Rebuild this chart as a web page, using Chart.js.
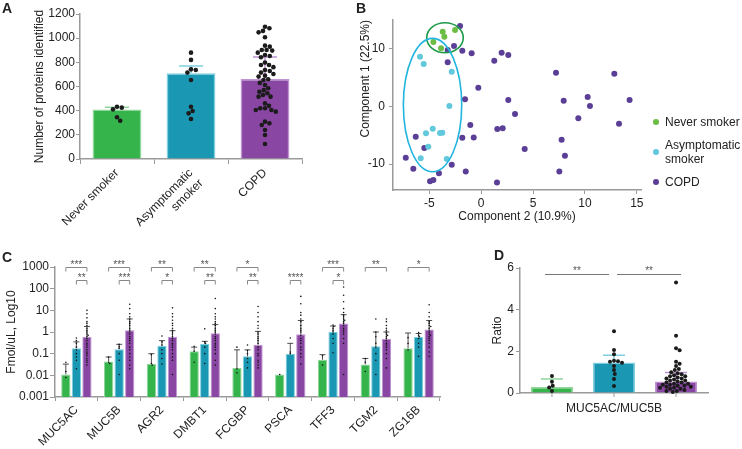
<!DOCTYPE html>
<html>
<head>
<meta charset="utf-8">
<script src="https://cdn.jsdelivr.net/npm/chart.js@4.4.0/dist/chart.umd.min.js"></script>
<style>
  body { margin: 0; background: #fff; width: 742px; height: 449px; position: relative; overflow: hidden;
         font-family: "Liberation Sans", Arial, sans-serif; color: #222; }
  .panel { position: absolute; }
  .letter { position: absolute; font-weight: bold; font-size: 14px; line-height: 14px; }
  #legendB { position: absolute; left: 653px; top: 115px; width: 90px; font-size: 12px; line-height: 14px; }
  #legendB .item { display: flex; align-items: center; margin-bottom: 9px; }
  #legendB .dot { width: 6px; height: 6px; border-radius: 50%; margin-right: 6px; flex: none; }
</style>
</head>
<body>
<div class="panel" style="left:0;top:0"><canvas id="chartA" width="310" height="230"></canvas></div>
<div class="panel" style="left:330px;top:0"><canvas id="chartB" width="412" height="230"></canvas></div>
<div class="panel" style="left:0;top:225px"><canvas id="chartC" width="445" height="224"></canvas></div>
<div class="panel" style="left:488px;top:225px"><canvas id="chartD" width="254" height="224"></canvas></div>
<div class="letter" style="left:2px;top:1px">A</div>
<div class="letter" style="left:356px;top:1px">B</div>
<div class="letter" style="left:2px;top:250px">C</div>
<div class="letter" style="left:494px;top:248px">D</div>
<div id="legendB"></div>

<script>
// ---- data ----
const groupsA = ['Never smoker', ['Asymptomatic', 'smoker'], 'COPD'];
const meanA = [410, 709, 662];
const errA = [428, 770, 845];
const dotsNeverA = [425, 411, 433, 345, 317];
const dotsAsymA = [880, 820, 742, 737, 715, 654, 433, 397, 378, 331];
const dotsCopdA = [1095, 1082, 1060, 1048, 1007, 938, 930, 902, 902, 897, 880, 861, 853, 842, 798, 778, 778, 760,
  737, 728, 715, 704, 690, 682, 660, 654, 630, 613, 585, 570, 557, 544, 530, 516, 516, 460, 440, 420, 420, 406,
  406, 392, 309, 295, 281, 240, 199, 124];

const groupsB = ['Never smoker', 'Asymptomatic smoker', 'COPD'];
const neverX = [-3.71, -2.52, -3.55, -4.61, -3.87];
const neverY = [12.97, 13.26, 12.1, 11.18, 10.08];
const asymX = [-5.9, -5.54, -2.84, -3.07, -4.67, -5.32, -3.97, -3.75, -5.1, -5.83, -3.32];
const asymY = [8.63, 7.36, 6.03, 0.07, -3.87, -4.67, -4.62, -4.57, -7.0, -9.0, -9.13];
const copdX = [-2.04, -2.62, -3.23, -1.82, -0.92, -3.23, -0.28, -1.56, -1.05, -0.72, -1.82, -6.31, -5.48, -7.27,
  -6.54, -2.84, -1.49, -4.07, -4.61, -4.93, 1.52, 1.55, 2.07, 1.26, 1.97, 2.61, 7.21, 12.83, 2.61, 7.95, 10.26,
  10.48, 14.3, 3.26, 9.36, 13.28, 7.75, 4.19, 8.07, 7.53];
const copdY = [13.96, 10.49, 9.79, 9.67, 9.22, 7.65, 3.25, 1.23, -3.23, -5.37, -5.43, -5.26, -7.22, -8.9, -10.8,
  -10.1, -11.27, -11.6, -12.78, -13.0, -13.2, -3.92, -3.8, 7.93, 9.33, 8.92, 5.85, 5.68, 1.11, 0.99, 1.63, 0.07,
  1.11, -1.32, -2.07, -3.0, -5.78, -7.4, -8.55, -11.27];
const xTicksB = [-5, 0, 5, 10, 15];
const yTicksB = [-10, 0, 10];
// ellipses: centre and radii in data units (never smoker, asymptomatic smoker)
const ellipseCx = [-3.49, -4.69];
const ellipseCy = [11.93, 0.24];
const ellipseRx = [1.76, 2.81];
const ellipseRy = [2.6, 11.58];

const proteinsC = ['MUC5AC', 'MUC5B', 'AGR2', 'DMBT1', 'FCGBP', 'PSCA', 'TFF3', 'TGM2', 'ZG16B'];
const meanNeverC = [0.011, 0.044, 0.033, 0.13, 0.022, 0.011, 0.052, 0.032, 0.18];
const meanAsymC = [0.18, 0.16, 0.23, 0.28, 0.075, 0.1, 1.0, 0.22, 0.59];
const meanCopdC = [0.6, 1.2, 0.6, 0.87, 0.26, 0.78, 2.5, 0.48, 1.3];
const errNeverC = [0.033, 0.07, 0.1, 0.2, 0.15, null, 0.09, 0.06, 0.9];
const errAsymC = [0.35, 0.27, 0.4, 0.37, 0.15, 0.3, 1.9, 1.0, 0.85];
const errCopdC = [1.8, 4, 1.15, 2.2, 1.07, 3.4, 6.3, 1.0, 3.4];
const dotsNeverC = [
  [0.04, 0.015, 0.008], [0.07, 0.04, 0.035], [0.09, 0.035, 0.03], [0.22, 0.13, 0.04], [0.2, 0.02, 0.013],
  [0.011], [0.08, 0.03], [0.06, 0.04, 0.015], [0.55, 0.3, 0.15]
];
const dotsAsymC = [
  [0.53, 0.4, 0.3, 0.2, 0.15, 0.1, 0.07, 0.05, 0.02],
  [0.27, 0.22, 0.18, 0.1, 0.05, 0.011],
  [0.65, 0.35, 0.25, 0.15, 0.1, 0.06, 0.033],
  [1.4, 0.35, 0.3, 0.2, 0.1, 0.035],
  [0.25, 0.14, 0.1, 0.06, 0.04, 0.022],
  [0.53, 0.12, 0.1],
  [2.1, 1.8, 1.5, 1.2, 1.0, 0.8, 0.5, 0.3, 0.11],
  [4, 1, 0.6, 0.3, 0.2, 0.1, 0.05, 0.011],
  [0.95, 0.7, 0.6, 0.5, 0.3, 0.2, 0.075]
];
const dotsCopdC = [
  [10, 7, 4.5, 3, 2.5, 2, 1.5, 1.2, 1, 0.8, 0.7, 0.6, 0.5, 0.4, 0.3, 0.25, 0.2, 0.15, 0.12, 0.1, 0.08, 0.06, 0.05, 0.04, 0.03],
  [19, 12, 7, 5, 4, 3, 2.5, 2, 1.5, 1.2, 1, 0.8, 0.6, 0.5, 0.4, 0.3, 0.2, 0.15, 0.1, 0.07, 0.05, 0.03, 0.02],
  [13, 7, 5, 3.5, 2.5, 2, 1.5, 1.2, 1, 0.8, 0.6, 0.5, 0.4, 0.3, 0.25, 0.2, 0.15, 0.1, 0.07, 0.05, 0.011],
  [35, 12, 7, 5, 4, 3, 2.5, 2, 1.5, 1.2, 1, 0.8, 0.6, 0.5, 0.4, 0.3, 0.25, 0.2, 0.15, 0.1, 0.05, 0.03],
  [15, 8, 5, 3, 2, 1.5, 1, 0.8, 0.6, 0.5, 0.4, 0.3, 0.2, 0.15, 0.1, 0.08, 0.05, 0.04, 0.03, 0.022],
  [44, 20, 8, 6, 4, 3, 2, 1.5, 1.2, 1, 0.7, 0.5, 0.4, 0.3, 0.2, 0.15, 0.1, 0.07, 0.033],
  [120, 50, 25, 12, 8, 6, 5, 4, 3.5, 3, 2.5, 2, 1.5, 1.2, 1, 0.8, 0.5, 0.3, 0.011],
  [4, 3, 2, 1.5, 1.2, 1, 0.8, 0.7, 0.6, 0.5, 0.4, 0.3, 0.25, 0.2, 0.15, 0.1, 0.06, 0.022],
  [18, 8, 5, 3, 2.5, 2, 1.8, 1.5, 1.2, 1, 0.8, 0.7, 0.6, 0.5, 0.4, 0.3, 0.2, 0.12, 0.075]
];
const yTicksC = [0.001, 0.01, 0.1, 1, 10, 100, 1000];
const yTickLabelsC = ['0.001', '0.01', '0.1', '1', '10', '100', '1000'];
// [protein index, from group, to group, label]
const bracketsC = [
  [0, 0, 2, '***'], [0, 1, 2, '**'],
  [1, 0, 2, '***'], [1, 1, 2, '***'],
  [2, 0, 2, '**'], [2, 1, 2, '*'],
  [3, 0, 2, '**'], [3, 1, 2, '**'],
  [4, 0, 2, '*'], [4, 1, 2, '**'],
  [5, 1, 2, '****'],
  [6, 0, 2, '***'], [6, 1, 2, '*'],
  [7, 0, 2, '**'],
  [8, 0, 2, '*']
];

const labelD = ['MUC5AC/MUC5B'];
const meanD = [0.29, 1.46, 0.55];
const errD = [0.67, 1.81, 0.98];
const dotsNeverD = [0.82, 0.54, 0.35, 0.26, 0.1];
const dotsAsymD = [2.97, 2.07, 1.86, 1.55, 1.52, 1.5, 1.45, 1.3, 1.1, 0.91, 0.67, 0.34];
const dotsCopdD = [5.3, 2.75, 2.15, 2.05, 1.5, 1.4, 1.3, 1.15, 1.1, 1.0, 0.95, 0.9, 0.85, 0.8, 0.8, 0.75, 0.7,
  0.7, 0.65, 0.6, 0.6, 0.55, 0.5, 0.5, 0.45, 0.45, 0.4, 0.4, 0.35, 0.35, 0.3, 0.3, 0.25, 0.25, 0.2, 0.2, 0.15,
  0.1, 0.1, 0.05];
const bracketsD = [[0, 1, '**'], [1, 2, '**']];

// ---- styles ----
const barColors = ['#34b44a', '#1a97b3', '#8a46a3'];
const lightColors = ['#8fd69b', '#7fcfe0', '#bf94d3'];
const scatterColors = ['#6cbd45', '#62c9dd', '#5b3f97'];
const ellipseColors = ['#1f9a49', '#22b5df'];
const axisGray = '#9a9a9a';
const FONT = '"Liberation Sans", Arial, sans-serif';

Chart.defaults.font.family = FONT;
Chart.defaults.font.size = 12;
Chart.defaults.color = '#222';
Chart.defaults.animation = false;
Chart.defaults.responsive = false;
Chart.defaults.plugins.legend.display = false;
Chart.defaults.plugins.tooltip.enabled = false;

function axisGrid(len) {
  return { display: true, drawOnChartArea: false, drawTicks: len > 0, tickLength: len, color: axisGray, lineWidth: 1 };
}
const axisBorder = { color: axisGray, width: 1.5 };
const plain = v => String(v);

// simple beeswarm: nudges dots sideways until they stop overlapping
function swarm(cx, ys, r) {
  const order = ys.map((y, i) => i).sort((a, b) => ys[a] - ys[b]);
  const placed = [];
  const xs = new Array(ys.length);
  const d2 = (2 * r) * (2 * r);
  order.forEach(i => {
    const y = ys[i];
    let x = cx;
    for (let k = 0; k < 400; k++) {
      const off = (k % 2 ? 1 : -1) * Math.ceil(k / 2) * 0.4;
      const tx = cx + off;
      if (placed.every(p => (p[0] - tx) ** 2 + (p[1] - y) ** 2 >= d2)) { x = tx; break; }
    }
    xs[i] = x;
    placed.push([x, y]);
  });
  return xs;
}

function drawDots(ctx, cx, yScale, vals, r, color) {
  const ys = vals.map(v => yScale.getPixelForValue(v));
  const xs = swarm(cx, ys, r);
  ctx.fillStyle = color;
  ys.forEach((py, k) => { ctx.beginPath(); ctx.arc(xs[k], py, r, 0, Math.PI * 2); ctx.fill(); });
}

function drawCap(ctx, cx, yScale, mean, err, color, halfW, lw) {
  const top = yScale.getPixelForValue(mean), cap = yScale.getPixelForValue(err);
  ctx.strokeStyle = color; ctx.lineWidth = lw;
  ctx.beginPath();
  ctx.moveTo(cx, top); ctx.lineTo(cx, cap);
  ctx.moveTo(cx - halfW, cap); ctx.lineTo(cx + halfW, cap);
  ctx.stroke();
}

// ---- A ----
const dotsA = [dotsNeverA, dotsAsymA, dotsCopdA];
new Chart(document.getElementById('chartA'), {
  type: 'bar',
  data: {
    labels: groupsA,
    datasets: [{ data: meanA, backgroundColor: barColors, borderColor: lightColors, borderWidth: 1.5,
                 barPercentage: 0.66, categoryPercentage: 1 }]
  },
  options: {
    layout: { padding: { top: 14, right: 8 } },
    scales: {
      x: { grid: axisGrid(5), border: axisBorder,
           ticks: { maxRotation: 45, minRotation: 45, padding: 2, font: { size: 12 } },
           afterFit: s => { s.height = 71; } },
      y: { min: 0, max: 1200, grid: axisGrid(4), border: axisBorder,
           ticks: { stepSize: 200, padding: 1, font: { size: 12 }, callback: plain },
           title: { display: true, text: 'Number of proteins identified', font: { size: 12 }, padding: { top: 32, bottom: 0 } },
           afterFit: s => { s.width = 80; } }
    }
  },
  plugins: [{
    id: 'dotsA',
    afterDatasetsDraw(chart) {
      const ctx = chart.ctx, y = chart.scales.y, meta = chart.getDatasetMeta(0);
      ctx.save();
      dotsA.forEach((vals, i) => {
        const cx = meta.data[i].x;
        drawCap(ctx, cx, y, meanA[i], errA[i], lightColors[i], 12, 1.5);
        drawDots(ctx, cx, y, vals, 2.3, '#1b1b1b');
      });
      ctx.restore();
    }
  }]
});

// ---- B ----
const toPts = (xs, ys) => xs.map((x, i) => ({ x, y: ys[i] }));
new Chart(document.getElementById('chartB'), {
  type: 'scatter',
  data: {
    datasets: [
      { label: groupsB[0], data: toPts(neverX, neverY), backgroundColor: scatterColors[0] },
      { label: groupsB[1], data: toPts(asymX, asymY), backgroundColor: scatterColors[1] },
      { label: groupsB[2], data: toPts(copdX, copdY), backgroundColor: scatterColors[2] }
    ].map(d => Object.assign(d, { pointRadius: 3, borderWidth: 0 }))
  },
  options: {
    layout: { padding: { top: 20, right: 101 } },
    scales: {
      x: { type: 'linear', min: -8.5, max: 15.4, grid: axisGrid(4), border: axisBorder,
           afterBuildTicks: s => { s.ticks = xTicksB.map(v => ({ value: v })); },
           ticks: { padding: 2 },
           title: { display: true, text: 'Component 2 (10.9%)', padding: { top: 0, bottom: 6 } },
           afterFit: s => { s.height = 40; } },
      y: { min: -14.5, max: 15, grid: axisGrid(4), border: axisBorder,
           afterBuildTicks: s => { s.ticks = yTicksB.map(v => ({ value: v })); },
           ticks: { padding: 4 },
           title: { display: true, text: 'Component 1 (22.5%)', align: 'end', padding: { top: 28, bottom: 0 } },
           afterFit: s => { s.width = 63; } }
    }
  },
  plugins: [{
    id: 'ellipses',
    afterDatasetsDraw(chart) {
      const ctx = chart.ctx, xs = chart.scales.x, ys = chart.scales.y;
      ctx.save();
      ctx.lineWidth = 1.6;
      ellipseCx.forEach((cx, i) => {
        const px = xs.getPixelForValue(cx), py = ys.getPixelForValue(ellipseCy[i]);
        const rx = Math.abs(xs.getPixelForValue(cx + ellipseRx[i]) - px);
        const ry = Math.abs(ys.getPixelForValue(ellipseCy[i] + ellipseRy[i]) - py);
        ctx.strokeStyle = ellipseColors[i];
        ctx.beginPath(); ctx.ellipse(px, py, rx, ry, 0, 0, Math.PI * 2); ctx.stroke();
      });
      ctx.restore();
    }
  }]
});
const leg = document.getElementById('legendB');
groupsB.forEach((g, i) => {
  const it = document.createElement('div');
  it.className = 'item';
  it.innerHTML = '<span class="dot" style="background:' + scatterColors[i] + '"></span><span>' + g + '</span>';
  leg.appendChild(it);
});

// ---- C ----
const meansC = [meanNeverC, meanAsymC, meanCopdC];
const errsC = [errNeverC, errAsymC, errCopdC];
const dotsC = [dotsNeverC, dotsAsymC, dotsCopdC];
new Chart(document.getElementById('chartC'), {
  type: 'bar',
  data: {
    labels: proteinsC,
    datasets: meansC.map((m, g) => ({ data: m, backgroundColor: barColors[g], borderColor: lightColors[g],
      borderWidth: 1, barPercentage: 0.88, categoryPercentage: 0.74 }))
  },
  options: {
    layout: { padding: { top: 42, right: 5 } },
    scales: {
      x: { grid: axisGrid(4), border: axisBorder,
           ticks: { maxRotation: 45, minRotation: 45, padding: 2, font: { size: 12 } },
           afterFit: s => { s.height = 52; } },
      y: { type: 'logarithmic', min: 0.001, max: 1000, grid: axisGrid(5), border: axisBorder,
           afterBuildTicks: s => { s.ticks = yTicksC.map(v => ({ value: v })); },
           ticks: { padding: 1, font: { size: 12 }, callback: (v, i) => yTickLabelsC[i] },
           title: { display: true, text: 'Fmol/uL, Log10', font: { size: 12 }, padding: { top: 4, bottom: 0 } },
           afterFit: s => { s.width = 55; } }
    }
  },
  plugins: [{
    id: 'detailsC',
    afterDatasetsDraw(chart) {
      const ctx = chart.ctx, y = chart.scales.y;
      ctx.save();
      meansC.forEach((m, g) => {
        const meta = chart.getDatasetMeta(g);
        m.forEach((v, c) => {
          const cx = meta.data[c].x;
          if (errsC[g][c] != null) drawCap(ctx, cx, y, v, errsC[g][c], '#222', 3, 0.8);
          drawDots(ctx, cx, y, dotsC[g][c], 0.8, '#111');
        });
      });
      ctx.restore();
    },
    afterDraw(chart) {
      const ctx = chart.ctx, y = chart.scales.y;
      ctx.save();
      ctx.strokeStyle = '#888'; ctx.lineWidth = 1;
      ctx.fillStyle = '#555'; ctx.font = '10px ' + FONT; ctx.textAlign = 'center';
      bracketsC.forEach(([c, g1, g2, label]) => {
        const x1 = chart.getDatasetMeta(g1).data[c].x, x2 = chart.getDatasetMeta(g2).data[c].x;
        const ly = Math.round(y.getPixelForValue(g1 === 0 ? 1000 : 240)) + 0.5;
        ctx.beginPath();
        ctx.moveTo(x1, ly + 4); ctx.lineTo(x1, ly); ctx.lineTo(x2, ly); ctx.lineTo(x2, ly + 4);
        ctx.stroke();
        ctx.fillText(label, (x1 + x2) / 2, ly);
      });
      ctx.restore();
    }
  }]
});

// ---- D ----
const dotsD = [dotsNeverD, dotsAsymD, dotsCopdD];
new Chart(document.getElementById('chartD'), {
  type: 'bar',
  data: {
    labels: labelD,
    datasets: meanD.map((v, g) => ({ data: [v], backgroundColor: barColors[g], borderColor: lightColors[g],
      borderWidth: 1.5, barPercentage: 0.68, categoryPercentage: 0.99 }))
  },
  options: {
    layout: { padding: { top: 43, right: 34 } },
    scales: {
      x: { grid: axisGrid(0), border: axisBorder, ticks: { padding: 8, font: { size: 12 } },
           afterFit: s => { s.height = 56; } },
      y: { min: 0, max: 6, grid: axisGrid(4), border: axisBorder, ticks: { stepSize: 2, padding: 2 },
           title: { display: true, text: 'Ratio', padding: { top: 2, bottom: 0 } },
           afterFit: s => { s.width = 32; } }
    }
  },
  plugins: [{
    id: 'detailsD',
    afterDatasetsDraw(chart) {
      const ctx = chart.ctx, y = chart.scales.y;
      ctx.save();
      dotsD.forEach((vals, g) => {
        const cx = chart.getDatasetMeta(g).data[0].x;
        ctx.strokeStyle = axisGray; ctx.lineWidth = 1;
        ctx.beginPath(); ctx.moveTo(cx, chart.chartArea.bottom); ctx.lineTo(cx, chart.chartArea.bottom + 4); ctx.stroke();
        drawCap(ctx, cx, y, meanD[g], errD[g], lightColors[g], 11, 1.5);
        drawDots(ctx, cx, y, vals, 2, '#1b1b1b');
      });
      ctx.restore();
    },
    afterDraw(chart) {
      const ctx = chart.ctx, y = chart.scales.y;
      ctx.save();
      ctx.strokeStyle = '#777'; ctx.lineWidth = 1;
      ctx.fillStyle = '#555'; ctx.font = '10px ' + FONT; ctx.textAlign = 'center';
      const ly = Math.round(y.getPixelForValue(5.7)) + 0.5;
      bracketsD.forEach(([g1, g2, label]) => {
        const x1 = chart.getDatasetMeta(g1).data[0].x, x2 = chart.getDatasetMeta(g2).data[0].x;
        // the two lines sit slightly apart, leaving a gap over the middle bar
        const mid = (x1 + x2) / 2 + (g1 === 0 ? -6 : 4);
        ctx.beginPath(); ctx.moveTo(mid - 32, ly); ctx.lineTo(mid + 32, ly); ctx.stroke();
        ctx.fillText(label, mid, ly - 1);
      });
      ctx.restore();
    }
  }]
});
</script>
</body>
</html>
